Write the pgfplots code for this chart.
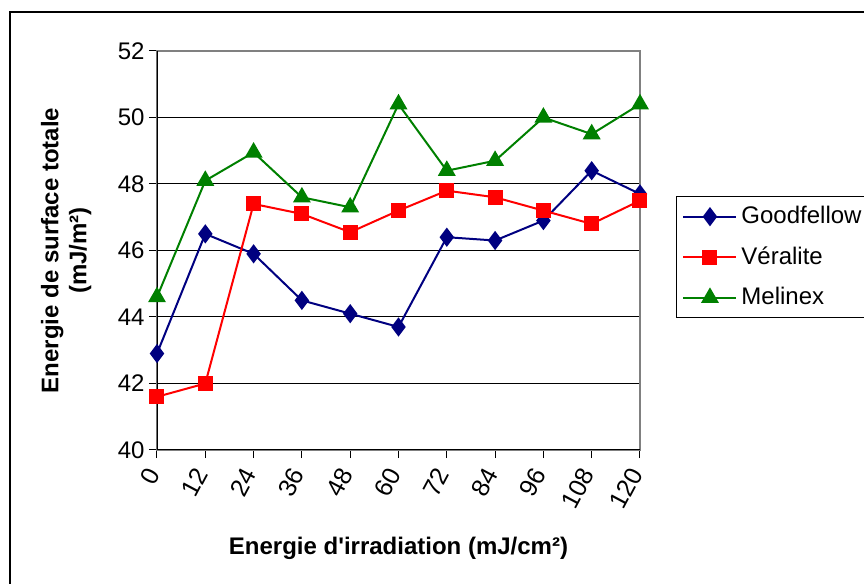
\documentclass[border=0pt]{standalone}
\usepackage{pgfplots}
\pgfplotsset{compat=1.18}
\usepackage{fontspec}
\setmainfont{Liberation Sans}
\definecolor{gfnavy}{RGB}{0,0,128}
\definecolor{vred}{RGB}{255,0,0}
\definecolor{mgreen}{RGB}{0,128,0}
\begin{document}
\begin{tikzpicture}
\useasboundingbox (-78.5pt,-67pt) rectangle (353.5pt,225pt);
\begin{axis}[
    name=ax, at={(0,0)}, anchor=south west,
    scale only axis, width=241.5pt, height=199.5pt,
    xmin=0, xmax=120, ymin=40, ymax=52,
    xtick={0,12,...,120}, ytick={40,42,...,52},
    xtick pos=bottom, ytick pos=left,
    tick align=outside, major tick length=4pt,
    tick style={black, line width=0.5pt},
    ymajorgrids, grid style={black, line width=0.5pt},
    axis line style={draw=gray, line width=0.75pt},
    font=\fontsize{12}{14}\selectfont,
    /pgf/number format/assume math mode=true,
    xticklabel style={rotate=62, anchor=east, inner sep=1pt, xshift=-5pt, yshift=-1pt, font=\fontsize{12.5}{14}\selectfont},
    yticklabel style={inner sep=2pt},
    xlabel={\bfseries Energie d\textquotesingle irradiation (mJ/cm²)},
    ylabel={\bfseries Energie de surface totale\\\bfseries (mJ/m²)},
    xlabel style={at={(axis description cs:0.5,-0.2456)}, anchor=center},
    ylabel style={at={(axis description cs:-0.188,0.5)}, anchor=center, align=center},
    legend style={at={(axis description cs:1.0745,0.6366)}, anchor=north west,
        draw=black, line width=0.5pt, font=\fontsize{12}{14}\selectfont,
        row sep=6pt, inner sep=3pt, cells={anchor=west}},
    legend image code/.code={\draw[mark repeat=2,mark phase=2] plot coordinates {(0pt,0pt) (13.25pt,0pt) (26.5pt,0pt)};},
    every axis plot/.append style={line width=1pt},
]
\addplot[color=gfnavy, mark=diamond*, mark size=4pt, mark options={solid}] coordinates {
(0,42.9) (12,46.5) (24,45.9) (36,44.5) (48,44.1) (60,43.7) (72,46.4) (84,46.3) (96,46.9) (108,48.4) (120,47.7)};
\addlegendentry{Goodfellow}
\addplot[color=vred, mark=square*, mark size=3.25pt] coordinates {
(0,41.6) (12,42.0) (24,47.4) (36,47.1) (48,46.55) (60,47.2) (72,47.8) (84,47.6) (96,47.2) (108,46.8) (120,47.5)};
\addlegendentry{Véralite}
\addplot[color=mgreen, mark=triangle*, mark size=4.2pt] coordinates {
(0,44.6) (12,48.1) (24,48.95) (36,47.6) (48,47.3) (60,50.4) (72,48.4) (84,48.7) (96,50.0) (108,49.5) (120,50.4)};
\addlegendentry{Melinex}
\draw[black, line width=0.75pt] (rel axis cs:0,1) -- (rel axis cs:0,0) -- (rel axis cs:1,0);
\end{axis}
\draw[black, line width=0.75pt] (-73.5pt,-70pt) -- (-73.5pt,219pt) -- (356pt,219pt);
\end{tikzpicture}
\end{document}
